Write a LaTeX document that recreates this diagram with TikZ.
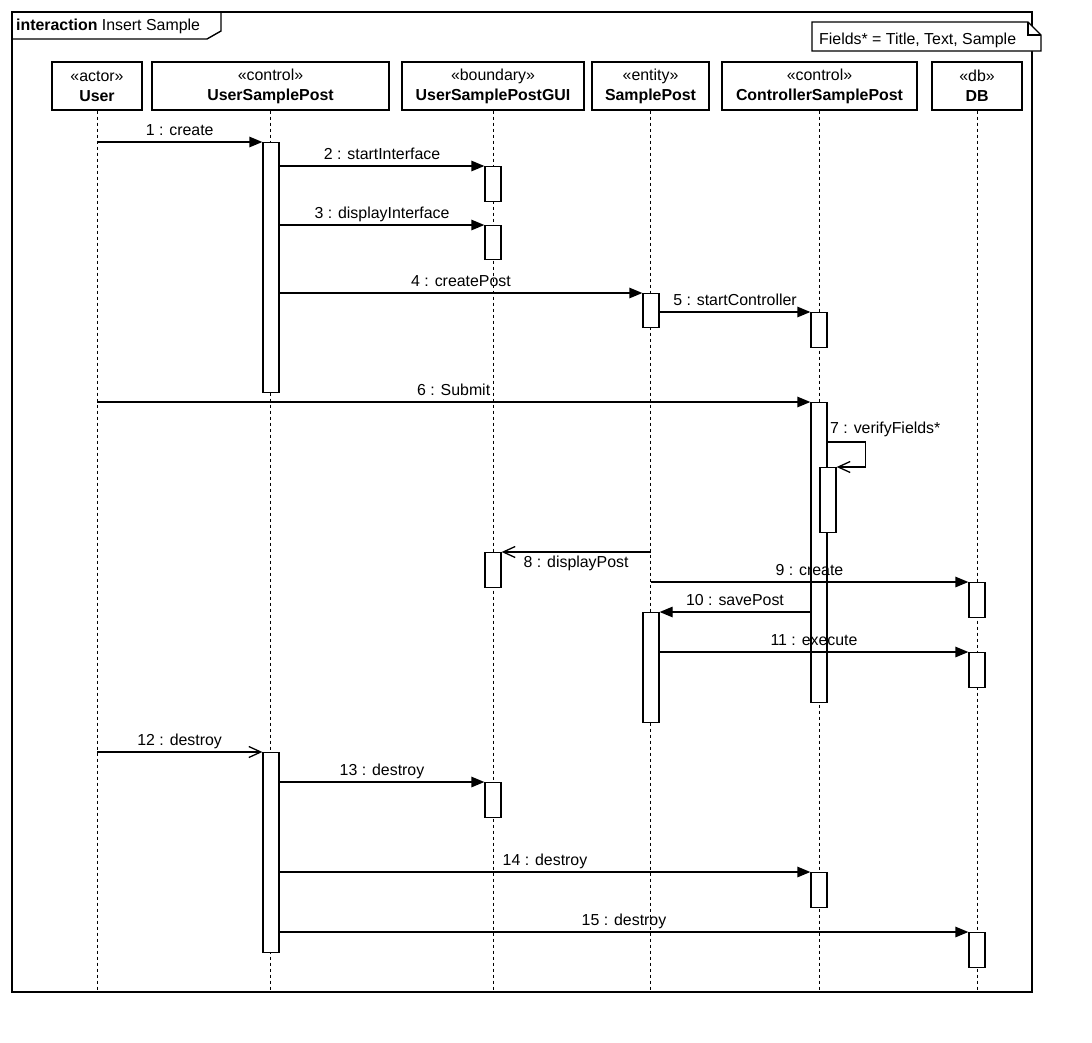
\documentclass[tikz,border=0pt]{standalone}
\usepackage{fontspec}
\setmainfont{Liberation Sans}
\usetikzlibrary{arrows.meta}
\begin{document}
\begin{tikzpicture}[x=1pt,y=-1pt,
  every node/.style={font=\fontsize{15.9}{20}\selectfont, inner sep=0pt},
  head/.style={draw, line width=1.3pt, fill=white, minimum height=48, align=center},
  act/.style={draw, line width=1.3pt, fill=white, minimum width=16, anchor=north},
  life/.style={line width=0.9pt, dash pattern=on 3pt off 3pt},
  msg/.style={line width=1.3pt, -{Triangle[length=13pt,width=10.5pt]}},
  msgopen/.style={line width=1.3pt, -{Straight Barb[length=12pt,width=11pt]}},
  lbl/.style={midway, anchor=base, yshift=7pt},
  lblbelow/.style={midway, anchor=base, yshift=-15pt},
  framestyle/.style={line width=1.4pt}
]
\useasboundingbox (0,0) rectangle (1092,1042);
\fill[white] (0,0) rectangle (1092,1042);

% frame
\draw[framestyle] (12,12) rectangle (1032,992);
\draw[framestyle] (12,39) -- (207,39) -- (221,31) -- (221,12);
\node[anchor=base west] (title) at (16,30) {\textbf{interaction} Insert Sample};
\coordinate (fb) at (0,992);

% note
\draw[line width=1.2pt, fill=white] (812,22) -- (1028,22) -- (1041,35) -- (1041,51) -- (812,51) -- cycle;
\draw[line width=1.2pt] (1028,22) -- (1028,35) -- (1041,35);
\node[anchor=base west] (note) at (819,44) {Fields* = Title, Text, Sample};

% heads
\node[head, minimum width=90] (user) at (97,86) {«actor»\\\textbf{User}};
\node[head, minimum width=237] (usp) at (270.5,86) {«control»\\\textbf{UserSamplePost}};
\node[head, minimum width=182] (gui) at (493,86) {«boundary»\\\textbf{UserSamplePostGUI}};
\node[head, minimum width=117] (sp) at (650.5,86) {«entity»\\\textbf{SamplePost}};
\node[head, minimum width=195] (csp) at (819.5,86) {«control»\\\textbf{ControllerSamplePost}};
\node[head, minimum width=90] (db) at (977,86) {«db»\\\textbf{DB}};

% lifelines
\foreach \n in {user,usp,gui,sp,csp,db}{
  \draw[life] (\n.south) -- (\n.south |- fb);
}

% activations
\node[act, minimum height=250] (a1) at (271,142) {};
\node[act, minimum height=35] (g1) at (493,166) {};
\node[act, minimum height=34] (g2) at (493,225) {};
\node[act, minimum height=34] (s1) at (651,293) {};
\node[act, minimum height=35] (c1) at (819,312) {};
\node[act, minimum height=300] (c2) at (819,402) {};
\node[act, minimum height=65] (c3) at (828,467) {};
\node[act, minimum height=35] (g3) at (493,552) {};
\node[act, minimum height=35] (d1) at (977,582) {};
\node[act, minimum height=110] (s2) at (651,612) {};
\node[act, minimum height=35] (d2) at (977,652) {};
\node[act, minimum height=200] (a2) at (271,752) {};
\node[act, minimum height=35] (g4) at (493,782) {};
\node[act, minimum height=35] (c4) at (819,872) {};
\node[act, minimum height=35] (d3) at (977,932) {};

% messages
\draw[msg] (user.south |- a1.north) -- node[lbl] {1 : create} (a1.north west);
\draw[msg] (a1.east |- g1.north) -- node[lbl] {2 : startInterface} (g1.north west);
\draw[msg] (a1.east |- g2.north) -- node[lbl] {3 : displayInterface} (g2.north west);
\draw[msg] (a1.east |- s1.north) -- node[lbl] {4 : createPost} (s1.north west);
\draw[msg] (s1.east |- c1.north) -- node[lbl] {5 : startController} (c1.north west);
\draw[msg] (user.south |- c2.north) -- node[lbl] {6 : Submit} (c2.north west);
\coordinate (y7) at (0,442);
\draw[msgopen] (c2.east |- y7) -- ++(38,0) |- (c3.north east);
\node[anchor=base west] (l7) at (830,433) {7 : verifyFields*};
\draw[msgopen] (sp.south |- g3.north) -- node[lblbelow] {8 : displayPost} (g3.north east);
\draw[msg] (sp.south |- d1.north) -- node[lbl] {9 : create} (d1.north west);
\draw[msg] (c2.west |- s2.north) -- node[lbl] {10 : savePost} (s2.north east);
\draw[msg] (s2.east |- d2.north) -- node[lbl] {11 : execute} (d2.north west);
\draw[msgopen] (user.south |- a2.north) -- node[lbl] {12 : destroy} (a2.north west);
\draw[msg] (a2.east |- g4.north) -- node[lbl] {13 : destroy} (g4.north west);
\draw[msg] (a2.east |- c4.north) -- node[lbl] {14 : destroy} (c4.north west);
\draw[msg] (a2.east |- d3.north) -- node[lbl] {15 : destroy} (d3.north west);
\end{tikzpicture}
\end{document}
